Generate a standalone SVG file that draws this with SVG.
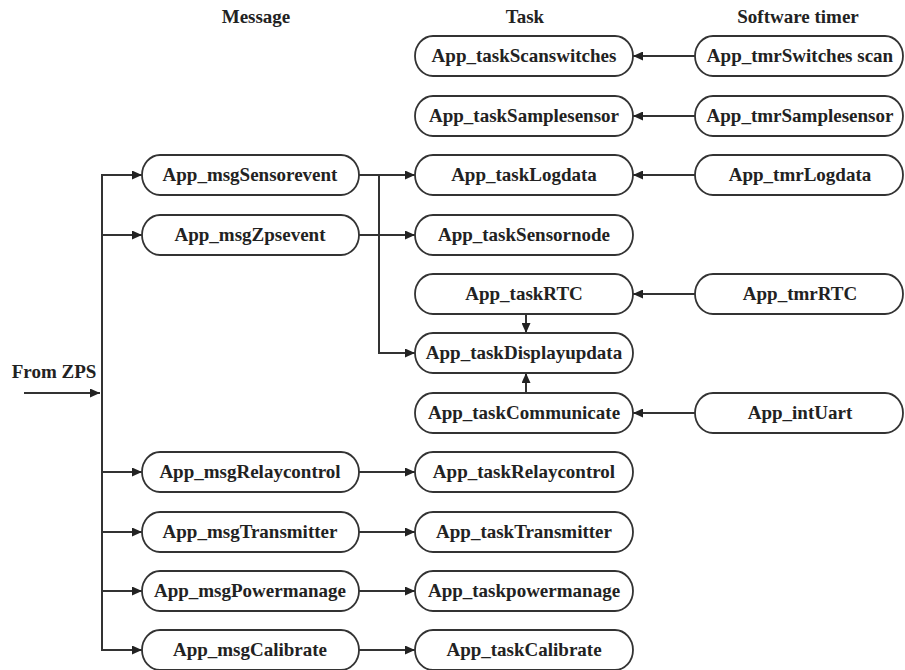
<svg xmlns="http://www.w3.org/2000/svg" width="905" height="670" viewBox="0 0 905 670">
<style>
.n rect{fill:#fff;stroke:#333;stroke-width:1.8}
text{font-weight:700;font-size:19px;fill:#222;text-anchor:middle}
.c path{fill:none;stroke:#333;stroke-width:2}
.c .a{marker-end:url(#ah)}
</style>
<defs>
<marker id="ah" markerUnits="userSpaceOnUse" markerWidth="11" markerHeight="9" refX="10" refY="4.5" orient="auto">
<path d="M0,0 L10,4.5 L0,9 z" fill="#222"/>
</marker>
</defs>
<g font-family="Liberation Serif, serif">
<g id="headers">
<text x="256" y="23">Message</text>
<text x="525" y="23">Task</text>
<text x="798" y="23">Software timer</text>
<text x="54" y="378">From ZPS</text>
</g>
<g class="c" id="connectors">
<path class="a" d="M24,393 H100"/>
<path d="M102,175 V650"/>
<path class="a" d="M101,175 H142"/>
<path class="a" d="M102,235 H142"/>
<path class="a" d="M102,472 H142"/>
<path class="a" d="M102,532 H142"/>
<path class="a" d="M102,591 H142"/>
<path class="a" d="M101,650 H142"/>
<path class="a" d="M359,175 H415"/>
<path class="a" d="M379,175 V353 H415"/>
<path class="a" d="M359,235 H415"/>
<path class="a" d="M359,472 H415"/>
<path class="a" d="M359,532 H415"/>
<path class="a" d="M359,591 H415"/>
<path class="a" d="M359,650 H415"/>
<path class="a" d="M695,56 H633"/>
<path class="a" d="M695,116 H633"/>
<path class="a" d="M695,175 H633"/>
<path class="a" d="M695,294 H633"/>
<path class="a" d="M695,413 H633"/>
<path class="a" d="M526,314 V333"/>
<path class="a" d="M526,393 V373"/>
</g>
<g class="n" id="msgSensorevent"><rect x="142" y="155" width="217" height="40" rx="18" ry="20"/><text x="250" y="181">App_msgSensorevent</text></g>
<g class="n" id="msgZpsevent"><rect x="142" y="215" width="217" height="40" rx="18" ry="20"/><text x="250" y="241">App_msgZpsevent</text></g>
<g class="n" id="msgRelaycontrol"><rect x="142" y="452" width="217" height="40" rx="18" ry="20"/><text x="250" y="478">App_msgRelaycontrol</text></g>
<g class="n" id="msgTransmitter"><rect x="142" y="512" width="217" height="40" rx="18" ry="20"/><text x="250" y="538">App_msgTransmitter</text></g>
<g class="n" id="msgPowermanage"><rect x="142" y="571" width="217" height="40" rx="18" ry="20"/><text x="250" y="597">App_msgPowermanage</text></g>
<g class="n" id="msgCalibrate"><rect x="142" y="630" width="217" height="40" rx="18" ry="20"/><text x="250" y="656">App_msgCalibrate</text></g>
<g class="n" id="taskScanswitches"><rect x="415" y="36" width="218" height="40" rx="18" ry="20"/><text x="524" y="62">App_taskScanswitches</text></g>
<g class="n" id="taskSamplesensor"><rect x="415" y="96" width="218" height="40" rx="18" ry="20"/><text x="524" y="122">App_taskSamplesensor</text></g>
<g class="n" id="taskLogdata"><rect x="415" y="155" width="218" height="40" rx="18" ry="20"/><text x="524" y="181">App_taskLogdata</text></g>
<g class="n" id="taskSensornode"><rect x="415" y="215" width="218" height="40" rx="18" ry="20"/><text x="524" y="241">App_taskSensornode</text></g>
<g class="n" id="taskRTC"><rect x="415" y="274" width="218" height="40" rx="18" ry="20"/><text x="524" y="300">App_taskRTC</text></g>
<g class="n" id="taskDisplayupdata"><rect x="415" y="333" width="218" height="40" rx="18" ry="20"/><text x="524" y="359">App_taskDisplayupdata</text></g>
<g class="n" id="taskCommunicate"><rect x="415" y="393" width="218" height="40" rx="18" ry="20"/><text x="524" y="419">App_taskCommunicate</text></g>
<g class="n" id="taskRelaycontrol"><rect x="415" y="452" width="218" height="40" rx="18" ry="20"/><text x="524" y="478">App_taskRelaycontrol</text></g>
<g class="n" id="taskTransmitter"><rect x="415" y="512" width="218" height="40" rx="18" ry="20"/><text x="524" y="538">App_taskTransmitter</text></g>
<g class="n" id="taskpowermanage"><rect x="415" y="571" width="218" height="40" rx="18" ry="20"/><text x="524" y="597">App_taskpowermanage</text></g>
<g class="n" id="taskCalibrate"><rect x="415" y="630" width="218" height="40" rx="18" ry="20"/><text x="524" y="656">App_taskCalibrate</text></g>
<g class="n" id="tmrSwitchesscan"><rect x="695" y="36" width="208" height="40" rx="18" ry="20"/><text x="800" y="62">App_tmrSwitches scan</text></g>
<g class="n" id="tmrSamplesensor"><rect x="695" y="96" width="208" height="40" rx="18" ry="20"/><text x="800" y="122">App_tmrSamplesensor</text></g>
<g class="n" id="tmrLogdata"><rect x="695" y="155" width="208" height="40" rx="18" ry="20"/><text x="800" y="181">App_tmrLogdata</text></g>
<g class="n" id="tmrRTC"><rect x="695" y="274" width="208" height="40" rx="18" ry="20"/><text x="800" y="300">App_tmrRTC</text></g>
<g class="n" id="intUart"><rect x="695" y="393" width="208" height="40" rx="18" ry="20"/><text x="800" y="419">App_intUart</text></g>
</g>
</svg>
